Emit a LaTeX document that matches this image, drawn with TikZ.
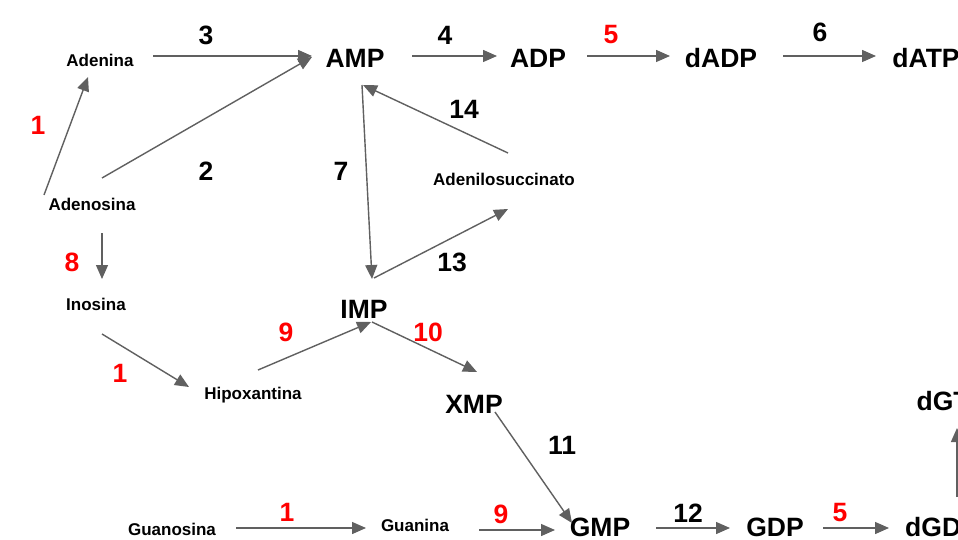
\documentclass[tikz,border=0pt]{standalone}
\usepackage{fontspec}
\setmainfont{Liberation Sans}
\usetikzlibrary{arrows.meta}
\definecolor{arrgray}{HTML}{606060}
\definecolor{numred}{HTML}{FF0000}
\tikzset{
  big/.style={font=\fontsize{26.5}{30}\selectfont\bfseries, inner sep=0pt},
  small/.style={font=\fontsize{17}{20}\selectfont\bfseries, inner sep=0pt},
  num/.style={font=\fontsize{26.5}{30}\selectfont\bfseries, inner sep=0pt},
  rnum/.style={num, text=numred},
  arr/.style={draw=arrgray, line width=1.4pt, -{Triangle[length=14pt,width=12pt]}}
}
\begin{document}
\begin{tikzpicture}[x=1pt,y=-1pt]
\useasboundingbox (0,0) rectangle (958,540);
\clip (0,0) rectangle (958,540);
\fill[white] (0,0) rectangle (958,540);
% nodes
\node[small] (Adenina) at (100,60) {Adenina};
\node[big] (AMP) at (355,58) {AMP};
\node[big] (ADP) at (538,58) {ADP};
\node[big] (dADP) at (721,58) {dADP};
\node[big] (dATP) at (926,58) {dATP};
\node[small] (Adenosina) at (92,204) {Adenosina};
\node[small] (Adenilo) at (504,179) {Adenilosuccinato};
\node[small] (Inosina) at (96,304) {Inosina};
\node[big] (IMP) at (364,309) {IMP};
\node[small] (Hipox) at (253,395) {Hipoxantina};
\node[big] (XMP) at (474,404) {XMP};
\node[small] (Guanosina) at (172,529) {Guanosina};
\node[small] (Guanina) at (415,525) {Guanina};
\node[big] (GMP) at (600,527.5) {GMP};
\node[big] (GDP) at (775,527.5) {GDP};
\node[big] (dGDP) at (942,527.5) {dGDP};
\node[big] (dGTP) at (952,401) {dGTP};
% connectors
\draw[arr] ([shift={(53,-4)}]Adenina.center) -- ([shift={(-43,-2)}]AMP.center);
\draw[arr] ([shift={(57,-2)}]AMP.center) -- ([shift={(-41,-2)}]ADP.center);
\draw[arr] ([shift={(49,-2)}]ADP.center) -- ([shift={(-51,-2)}]dADP.center);
\draw[arr] ([shift={(62,-2)}]dADP.center) -- ([shift={(-50,-2)}]dATP.center);
\draw[arr] ([shift={(-48,-9)}]Adenosina.center) -- ([shift={(-12,17)}]Adenina.center);
\draw[arr] ([shift={(10,-26)}]Adenosina.center) -- ([shift={(-43,-1)}]AMP.center);
\draw[arr] ([shift={(7,27)}]AMP.center) -- ([shift={(8,-30)}]IMP.center);
\draw[arr] ([shift={(4,-26)}]Adenilo.center) -- ([shift={(8,27)}]AMP.center);
\draw[arr] ([shift={(10,-31)}]IMP.center) -- ([shift={(4,30)}]Adenilo.center);
\draw[arr] ([shift={(10,29)}]Adenosina.center) -- ([shift={(6,-25)}]Inosina.center);
\draw[arr] ([shift={(6,30)}]Inosina.center) -- ([shift={(-64,-8)}]Hipox.center);
\draw[arr] ([shift={(5,-25)}]Hipox.center) -- ([shift={(7,13)}]IMP.center);
\draw[arr] ([shift={(8,13)}]IMP.center) -- ([shift={(3,-32)}]XMP.center);
\draw[arr] ([shift={(21,8)}]XMP.center) -- ([shift={(-28,-4.5)}]GMP.center);
\draw[arr] ([shift={(64,-1)}]Guanosina.center) -- ([shift={(-49,3)}]Guanina.center);
\draw[arr] ([shift={(64,5)}]Guanina.center) -- ([shift={(-45,2.5)}]GMP.center);
\draw[arr] ([shift={(56,0.5)}]GMP.center) -- ([shift={(-45,0.5)}]GDP.center);
\draw[arr] ([shift={(48,0.5)}]GDP.center) -- ([shift={(-53,0.5)}]dGDP.center);
\draw[arr] ([shift={(15,-30.5)}]dGDP.center) -- ([shift={(5,27)}]dGTP.center);
% labels
\node[num] (n3) at (206,35) {3};
\node[num] (n4) at (445,35) {4};
\node[rnum] (n5a) at (611,35) {5};
\node[num] (n6) at (820,32) {6};
\node[rnum] (n1a) at (38,125) {1};
\node[num] (n2) at (206,171) {2};
\node[num] (n7) at (341,171) {7};
\node[num] (n14) at (464,109) {14};
\node[num] (n13) at (452,262) {13};
\node[rnum] (n8) at (72,262) {8};
\node[rnum] (n1b) at (120,373) {1};
\node[rnum] (n9a) at (286,332) {9};
\node[rnum] (n10) at (428,332) {10};
\node[num] (n11) at (562,445) {11};
\node[rnum] (n1c) at (287,512) {1};
\node[rnum] (n9b) at (501,514) {9};
\node[num] (n12) at (688,513) {12};
\node[rnum] (n5b) at (840,513) {5};
\end{tikzpicture}
\end{document}
